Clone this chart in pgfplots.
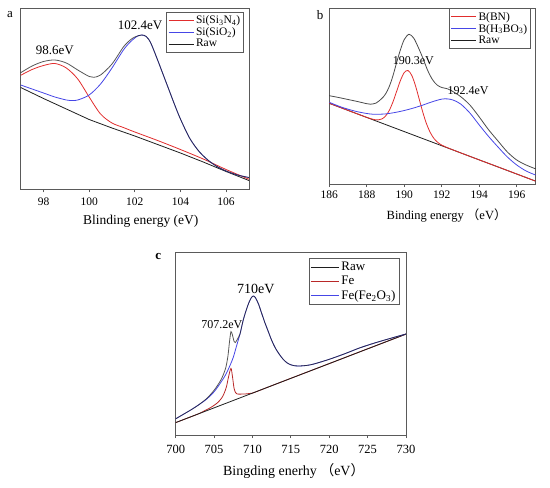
\documentclass[border=0pt]{standalone}
\usepackage{pgfplots}
\pgfplotsset{compat=1.18}
\usepackage{fontspec}
\setmainfont{Liberation Serif}
\newfontfamily\cjk{Noto Sans CJK SC}
\definecolor{cred}{RGB}{225,45,45}
\definecolor{cblue}{RGB}{70,70,230}
\definecolor{cfe}{RGB}{185,40,40}
\definecolor{craw}{RGB}{30,30,30}
\definecolor{frame}{RGB}{90,90,90}
\pgfplotsset{
 common/.style={scale only axis, anchor=south west,
  axis line style={frame, line width=0.7pt}, ytick=\empty,
  tick align=outside, xtick pos=lower, major tick length=3pt,
  tick style={frame, line width=0.7pt},
  /pgf/number format/assume math mode=true,
  ticklabel style={font=\fontsize{11.5}{12}\selectfont},
  legend cell align=left,
  legend image code/.code={\draw[##1] (0pt,0pt) -- (25pt,0pt);},
  legend style={draw=frame, line width=0.6pt, font=\fontsize{11.5}{13}\selectfont,
   inner sep=1.5pt, row sep=-1.5pt, anchor=north east, at={(1,1)}},
  every axis plot/.append style={line width=0.8pt}},
}
\begin{document}
\begin{tikzpicture}
\useasboundingbox (0,0) rectangle (550pt,-488pt);
% ---------------- panel a
\begin{axis}[common, at={(20.7pt,-189.3pt)}, width=228.2pt, height=181pt,
  xmin=97, xmax=107, ymin=-8.3, ymax=172.7, xtick={98,100,102,104,106},
  xticklabel style={yshift=-2pt},
  xlabel={Blinding energy (eV)},
  xlabel style={at={(axis description cs:0.526,-0.175)}, anchor=center, font=\fontsize{13.5}{14}\selectfont},
  legend style={xshift=-4.9pt, yshift=-3.4pt}]
\addlegendimage{cred, line width=0.8pt}\addlegendentry{Si(Si\textsubscript{3}N\textsubscript{4})}
\addlegendimage{cblue, line width=0.8pt}\addlegendentry{Si(SiO\textsubscript{2})}
\addlegendimage{craw, line width=0.8pt}\addlegendentry{Raw}
\addplot[craw, forget plot] coordinates {(97,93.5) (98,82.5) (99,72) (100,61.5) (101,53) (102,45) (103,36.5) (104,28) (105,19) (106,9.5) (107,0.5)};
\addplot[cred, smooth, forget plot] coordinates {(97,105.7) (97.5,111.5) (98,115.5) (98.5,117.5) (99,113) (99.5,102) (100,84) (100.5,67) (101,58) (101.5,53.5) (102,49) (103,40.5) (104,31.5) (105,22) (106,11.5) (107,1.8)};
\addplot[cblue, smooth, forget plot] coordinates {(97,96) (97.5,92) (98,88) (98.5,84) (99,81) (99.25,80.5) (99.5,81) (100,86) (100.5,97) (101,113) (101.5,131) (101.8,139) (102,143) (102.15,145.3) (102.3,146) (102.5,144.5) (102.7,138) (103,121) (103.2,109) (103.5,91) (103.75,76) (104,62) (104.4,43) (104.8,30) (105.2,21) (105.6,14.5) (106,10) (106.5,6) (107,3.5)};
\addplot[craw, opacity=0.75, smooth, forget plot] coordinates {(97,108.3) (97.5,115) (98,119.5) (98.5,121) (99,118) (99.5,111) (100,104.5) (100.2,103.7) (100.5,106) (101,117) (101.5,134) (101.8,141) (102,144) (102.3,146) (102.5,144.5) (102.7,138) (103,121) (103.2,109) (103.5,91) (103.75,76) (104,62) (104.4,43) (104.8,30) (105.2,21) (105.6,14.5) (106,10) (106.5,6) (107,3.5)};
\node[font=\fontsize{13}{14}\selectfont] at (axis cs:98.5,131) {98.6eV};
\node[font=\fontsize{13}{14}\selectfont] at (axis cs:102.23,156) {102.4eV};
\end{axis}
% ---------------- panel b
\begin{axis}[common, at={(329.3pt,-184pt)}, width=206.2pt, height=175.7pt,
  xmin=186, xmax=197, ymin=-0.5, ymax=175.2, xtick={186,188,...,196},
  xticklabel style={yshift=-0.5pt},
  xlabel={Binding energy {\cjk （}eV{\cjk ）}},
  xlabel style={at={(axis description cs:0.569,-0.182)}, anchor=center, font=\fontsize{12.5}{14}\selectfont},
  legend style={xshift=-4.5pt, yshift=0pt}]
\addlegendimage{cred, line width=0.8pt}\addlegendentry{B(BN)}
\addlegendimage{cblue, line width=0.8pt}\addlegendentry{B(H\textsubscript{3}BO\textsubscript{3})}
\addlegendimage{craw, line width=0.8pt}\addlegendentry{Raw}
\addplot[craw, forget plot] coordinates {(186,80.2) (197,2.4)};
\addplot[cred, smooth, forget plot] coordinates {(186,80.2) (187,73.1) (188,66.1) (188.2,64.9) (188.4,63.9) (188.6,63.6) (188.8,64.5) (189,67.4) (189.2,73.1) (189.4,81.8) (189.6,92.6) (189.8,103.3) (190,111) (190.2,113) (190.4,108.1) (190.6,97.6) (190.8,84.1) (191,70.5) (191.2,59) (191.4,50.5) (191.6,44.6) (191.8,40.9) (192,38.4) (192.2,36.6) (193,30.7) (194,23.6) (195,16.6) (196,9.5) (197,2.4)};
\addplot[cblue, smooth, forget plot] coordinates {(186,81.2) (186.5,77.4) (187,74.3) (187.5,71.8) (188,70) (188.4,69.2) (189,69.6) (189.5,71) (190,73) (190.5,75.5) (191,78.5) (191.5,81.8) (192,84.4) (192.3,84.6) (192.6,83.5) (193,79.6) (193.5,70.5) (194,58.5) (194.5,47) (195,36.5) (195.5,26.5) (196,18.5) (196.5,12.5) (197,8.5)};
\addplot[craw, opacity=0.8, smooth, forget plot] coordinates {(186,87.8) (186.5,86) (187,84) (187.5,82) (188,79.8) (188.2,79.3) (188.5,80.5) (188.8,85) (189,89.5) (189.2,97) (189.4,108) (189.6,121.5) (189.8,134) (190,144) (190.25,149.2) (190.5,145.5) (190.75,136) (191,125) (191.25,113) (191.5,104) (191.75,98.5) (192,96) (192.25,95) (192.5,93) (193,87) (193.5,78.5) (194,66.5) (194.5,53.7) (195,42.5) (195.5,31.5) (196,23.5) (196.5,18.5) (197,14.7)};
\node[font=\fontsize{12}{14}\selectfont] at (axis cs:190.48,122.5) {190.3eV};
\node[font=\fontsize{12}{14}\selectfont] at (axis cs:193.4,92.8) {192.4eV};
\end{axis}
% ---------------- panel c
\begin{axis}[common, at={(175.7pt,-435pt)}, width=230.3pt, height=182.7pt,
  xmin=700, xmax=730, ymin=-0.7, ymax=182, xtick={700,705,...,730},
  ticklabel style={font=\fontsize{12.5}{13}\selectfont},
  xticklabel style={yshift=-4pt},
  xlabel={Bingding enerhy {\cjk （}eV{\cjk ）}},
  xlabel style={at={(axis description cs:0.513,-0.196)}, anchor=center, font=\fontsize{14}{15}\selectfont},
  legend style={xshift=-6.7pt, yshift=-6pt, font=\fontsize{13}{15}\selectfont, row sep=0pt},
  legend image code/.code={\draw[#1] (0pt,0pt) -- (28pt,0pt);}]
\addlegendimage{craw, line width=0.8pt}\addlegendentry{Raw}
\addlegendimage{cfe, line width=0.8pt}\addlegendentry{Fe}
\addlegendimage{cblue, line width=0.8pt}\addlegendentry{Fe(Fe\textsubscript{2}O\textsubscript{3})}
\addplot[cfe, smooth, forget plot] coordinates {(700,11.7) (702,17.6) (703,20.6) (704,24.5) (704.5,26.5) (705,29) (705.5,31.9) (706,36.4) (706.3,40.8) (706.6,47.2) (706.9,58) (707.2,65.9) (707.4,57.5) (707.6,46.1) (707.8,41.7) (708,40.3) (708.5,40.2) (709,40.3) (709.5,40.7) (710,41.2) (712,47.1) (715,56) (720,70.7) (725,85.5) (730,100.2)};
\addplot[craw, forget plot] coordinates {(700,11.7) (730,100.2)};
\addplot[cblue, smooth, forget plot] coordinates {(700,15.5) (701,20) (702,24.5) (703,29.5) (704,35) (705,42.5) (705.8,51) (706.5,59.5) (707.1,69.3) (707.5,77) (707.9,87.6) (708.4,101) (708.8,114.3) (709.2,124.5) (709.5,131) (709.8,136) (710.1,138.3) (710.4,136.5) (710.8,130) (711.2,121) (711.6,112) (712,104) (712.5,94) (713,86) (713.5,80) (714,75) (714.5,71.5) (715,69.5) (715.5,68.5) (716,68.3) (717,68.8) (718,70.3) (720,75) (722,80.5) (724,86.5) (726,91.5) (728,96) (730,100.3)};
\addplot[craw, opacity=0.75, smooth, forget plot] coordinates {(700,15.5) (701,20) (702,24.5) (703,29.5) (704,35.5) (704.5,39.5) (705,44) (705.5,49.5) (706,56) (706.5,66) (706.8,78) (707,92) (707.2,102.7) (707.4,99) (707.6,93) (707.75,91.7) (708,94.5) (708.3,99) (708.4,101) (708.8,114.3) (709.2,124.5) (709.5,131) (709.8,136) (710.1,138.3) (710.4,136.5) (710.8,130) (711.2,121) (711.6,112) (712,104) (712.5,94) (713,86) (713.5,80) (714,75) (714.5,71.5) (715,69.5) (715.5,68.5) (716,68.3) (717,68.8) (718,70.3) (720,75) (722,80.5) (724,86.5) (726,91.5) (728,96) (730,100.3)};
\node[font=\fontsize{12}{14}\selectfont] at (axis cs:706,110.1) {707.2eV};
\node[font=\fontsize{14}{15}\selectfont] at (axis cs:710.43,145.6) {710eV};
\end{axis}
\node[font=\fontsize{13}{14}\selectfont] at (10pt,-15pt) {a};
\node[font=\fontsize{13}{14}\selectfont] at (320pt,-15pt) {b};
\node[font=\fontsize{13}{14}\bfseries\selectfont] at (158.3pt,-256.7pt) {c};
\end{tikzpicture}
\end{document}
